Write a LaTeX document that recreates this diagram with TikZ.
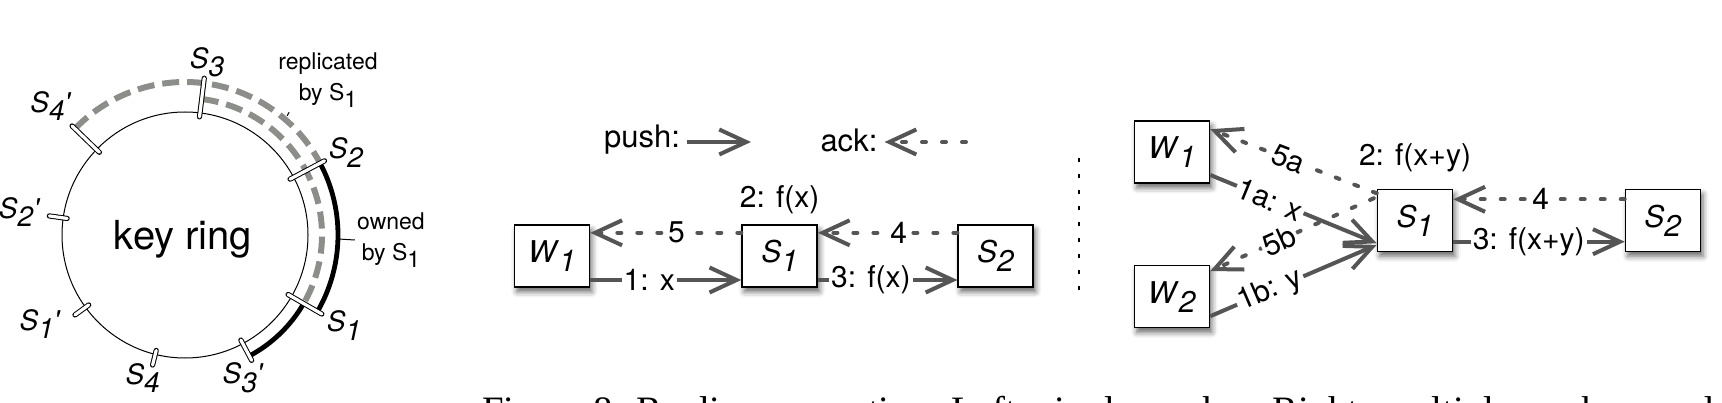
\documentclass[tikz,border=0pt]{standalone}
\usepackage{fontspec}
\setmainfont{TeX Gyre Heros}
\newfontfamily\capfont{Liberation Serif}
\usetikzlibrary{arrows.meta,positioning,shadows.blur}
\definecolor{arrowgray}{RGB}{85,85,85}
\definecolor{replgray}{RGB}{140,143,137}
\newcommand{\nm}[2]{\textit{#1}\raisebox{-0.3em}{\textit{#2}}}
\newcommand{\nmp}[2]{\textit{#1}\raisebox{-0.3em}{\textit{#2}}\textit{\textquotesingle}}

\begin{document}
\begin{tikzpicture}[x=0.5pt,y=0.5pt,>=Stealth, every node/.style={font=\fontsize{15}{17}\selectfont}]
    \tikzset{srv/.style={draw,fill=white,line width=0.8pt,inner sep=0pt,minimum width=37.5pt,minimum height=31pt,font=\fontsize{15}{17}\selectfont,blur shadow={shadow xshift=1.2pt,shadow yshift=-2.4pt,shadow blur radius=2.8pt,shadow opacity=60}}}
    \tikzset{pusharr/.style={draw=arrowgray,line width=2pt,-{Straight Barb[length=13.5pt,width=12.5pt]}}}
    \tikzset{ackarr/.style={pusharr,dash pattern=on 2pt off 8pt,line cap=round}}
    \tikzset{lab/.style={fill=white,inner sep=1pt}}
    \tikzset{tick/.style={draw=black,line width=0.5pt,double=white,double distance=1.6pt,line cap=round}}
    \tikzset{repl/.style={draw=replgray,line width=3pt,dash pattern=on 8.5pt off 4pt}}
    \tikzset{own/.style={draw=black,line width=2.4pt}}
    \tikzset{note/.style={font=\fontsize{11.5}{15.5}\selectfont,align=center,inner sep=1pt}}
    \tikzset{key/.style={font=\fontsize{14}{16}\selectfont}}

    \useasboundingbox (0,0) rectangle (1722,402);
    \clip (0,0) rectangle (1722,402);

    % key ring
    \coordinate (ring) at (185,167);
    \draw[line width=0.5pt] (ring) circle[radius=123];
    \node[font=\fontsize{20}{22}\selectfont] (keyring) at (183,163) {key ring};
    \draw[repl] ([shift={(136:153)}]ring) arc[start angle=136,end angle=28,radius=153];
    \draw[repl] ([shift={(83:137)}]ring) arc[start angle=83,end angle=-30,radius=137];
    \draw[own] ([shift={(28:153)}]ring) arc[start angle=28,end angle=-30,radius=153];
    \draw[own] ([shift={(-30:137)}]ring) arc[start angle=-30,end angle=-62,radius=137];
    \foreach \a/\r in {83/158,136/157,28/158,172/137,216/136,256/134,298/142,330/158}
      \draw[tick] ([shift={(\a:119)}]ring) -- ([shift={(\a:\r)}]ring);

    \node[key] (k3) at ([shift={(82.7:174)}]ring) {\nm{S}{3}};
    \node[key] (k4p) at ([shift={(136.1:186)}]ring) {\nmp{S}{4}};
    \node[key] (k2) at ([shift={(27.1:181)}]ring) {\nm{S}{2}};
    \node[key] (k2p) at ([shift={(172:167)}]ring) {\nmp{S}{2}};
    \node[key] (k1p) at ([shift={(211.6:170)}]ring) {\nmp{S}{1}};
    \node[key] (k1) at ([shift={(330.3:183)}]ring) {\nm{S}{1}};
    \node[key] (k4) at ([shift={(253.5:149)}]ring) {\nm{S}{4}};
    \node[key] (k3p) at ([shift={(292.2:154)}]ring) {\nmp{S}{3}};

    \node[note] (replby) at (328,322) {replicated\\by S\raisebox{-0.3em}{1}};
    \coordinate (replpt) at ([shift={(49.4:157)}]ring);
    \coordinate (replpt2) at ([shift={(49.7:161)}]ring);
    \draw[line width=0.5pt] (replpt) -- (replpt2);
    \node[note] (ownby) at (391,162) {owned\\by S\raisebox{-0.3em}{1}};
    \coordinate (ownpt) at ([shift={(-1.5:154)}]ring);
    \draw[line width=0.5pt] (ownpt) -- (ownby.west);

    % legend
    \node[font=\fontsize{15.5}{18}\selectfont] (push) at (642,262) {push:};
    \coordinate (pushtip) at (751,260);
    \draw[pusharr] (push.east |- pushtip) -- (pushtip);
    \node[font=\fontsize{15.5}{18}\selectfont] (ack) at (849,262) {ack:};
    \coordinate (acktail) at (966,260);
    \draw[ackarr] (acktail) -- (ack.east |- acktail);

    % single worker
    \node[srv] (w1) at (552,146) {\nm{W}{1}};
    \node[srv,right=75.5pt of w1] (s1) {\nm{S}{1}};
    \node[srv,right=69.75pt of s1] (s2) {\nm{S}{2}};
    \node[lab,above=4pt of s1] (f1) {2: f(x)};
    \draw[ackarr] ([yshift=11.6pt]s1.west) -- node[lab,pos=.43] {5} ([yshift=11.6pt]w1.east);
    \draw[ackarr] ([yshift=11.6pt]s2.west) -- node[lab,pos=.42] {4} ([yshift=11.6pt]s1.east);
    \draw[pusharr] ([yshift=-12pt]w1.east) -- node[lab,pos=.39] {1: x} ([yshift=-12pt]s1.west);
    \draw[pusharr] ([yshift=-12pt]s1.east) -- node[lab,pos=.38] {3: f(x)} ([yshift=-12pt]s2.west);

    % separator
    \draw[line width=1pt,dash pattern=on 2pt off 6pt] (1079,244) -- (1079,112);

    % multiple workers
    \node[srv] (w1r) at (1172,250) {\nm{W}{1}};
    \node[srv,below=40.5pt of w1r] (w2r) {\nm{W}{2}};
    \node[srv] (s1r) at (1415,181.5) {\nm{S}{1}};
    \node[srv,right=85.7pt of s1r] (s2r) {\nm{S}{2}};
    \node[lab,above=7pt of s1r] (f2) {2: f(x+y)};
    \draw[ackarr] ([yshift=13.6pt]s1r.west) -- node[lab,pos=.53,sloped] {5a} ([yshift=11.4pt]w1r.east);
    \draw[ackarr] ([xshift=-1.5pt,yshift=11.1pt]s1r.west) -- node[lab,pos=.58,sloped] {5b} ([yshift=12.8pt]w2r.east);
    \draw[ackarr] ([yshift=10.6pt]s2r.west) -- node[lab,pos=.49] {4} ([yshift=10.6pt]s1r.east);
    \draw[pusharr] ([yshift=-11.5pt]w1r.east) -- node[lab,pos=.36,sloped] {1a: x} ([yshift=-11.4pt]s1r.west);
    \draw[pusharr] ([yshift=-9.8pt]w2r.east) -- node[lab,pos=.36,sloped] {1b: y} ([yshift=-12.2pt]s1r.west);
    \draw[pusharr] ([yshift=-10.6pt]s1r.east) -- node[lab,pos=.44] {3: f(x+y)} ([yshift=-10.6pt]s2r.west);

    % caption (cut off)
    \node[anchor=base west,inner sep=0pt,font=\capfont\fontsize{19.4}{23}\selectfont] (caption) at (482,-21) {Figure 8: Replica generation. Left: single worker. Right: multiple workers updating values simultaneously.};
\end{tikzpicture}
\end{document}
